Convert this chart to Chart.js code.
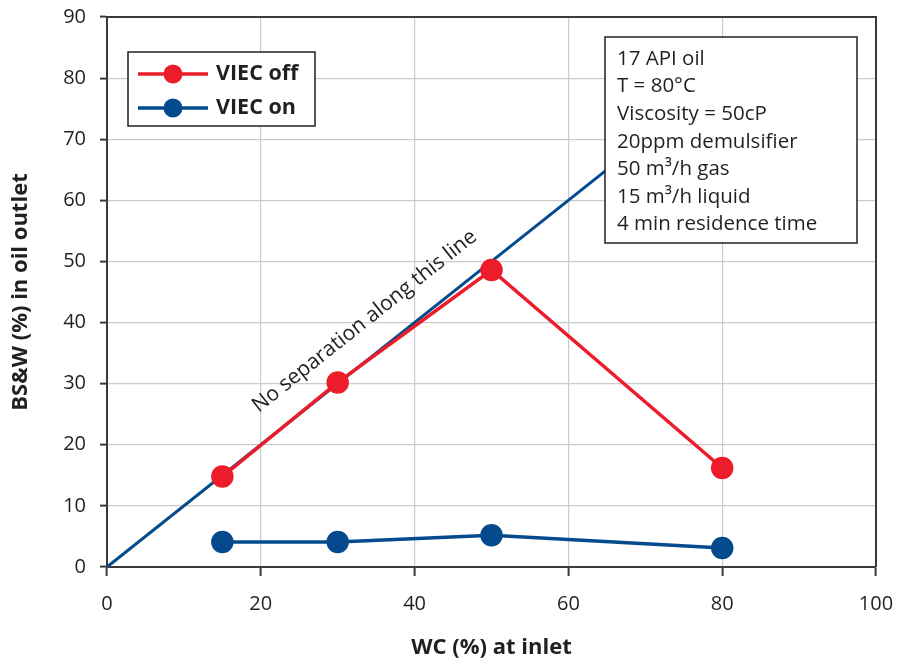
<!DOCTYPE html>
<html>
<head>
<meta charset="utf-8">
<script src="https://cdn.jsdelivr.net/npm/chart.js@4.4.1/dist/chart.umd.min.js"></script>
<style>
  html, body { margin: 0; padding: 0; background: #fff; }
  #wrap { width: 898px; height: 665px; position: relative; }
</style>
</head>
<body>
<div id="wrap"><canvas id="chart" width="898" height="665"></canvas></div>
<script>
// data
const wcInlet = [15, 30, 50, 80];
const viecOff = [14.8, 30.2, 48.6, 16.2];
const viecOn = [4.1, 4.1, 5.2, 3.1];
const noSepLine = [0, 75]; // y = x, no separation (runs in under the text box)
const xTicks = [0, 20, 40, 60, 80, 100];
const yTicks = [0, 10, 20, 30, 40, 50, 60, 70, 80, 90];
const infoLines = ['17 API oil', 'T = 80°C', 'Viscosity = 50cP', '20ppm demulsifier',
  '50 m³/h gas', '15 m³/h liquid', '4 min residence time'];

const RED = '#ec1c2a';
const BLUE = '#044a8d';
const INK = '#231f20';
const tickFont = { family: "'Open Sans', 'Noto Sans', sans-serif", size: 20 };
const textFont = "'Open Sans', 'Noto Sans', sans-serif";

const pts = (xs, ys) => xs.map((x, i) => ({ x: x, y: ys[i] }));

// text box, legend, rotated note and frame on top of the lines
const extras = {
  id: 'extras',
  afterDatasetsDraw(chart) {
    const { ctx, chartArea: a, scales } = chart;
    ctx.save();

    // frame
    ctx.strokeStyle = '#3a3a3a';
    ctx.lineWidth = 2;
    ctx.beginPath();
    ctx.moveTo(a.left, a.top); ctx.lineTo(a.right, a.top); ctx.lineTo(a.right, a.bottom);
    ctx.stroke();

    // note along diagonal
    const p0 = [scales.x.getPixelForValue(0), scales.y.getPixelForValue(0)];
    const p1 = [scales.x.getPixelForValue(90), scales.y.getPixelForValue(90)];
    const ang = Math.atan2(p1[1] - p0[1], p1[0] - p0[0]);
    ctx.save();
    ctx.translate(scales.x.getPixelForValue(33.5), scales.y.getPixelForValue(40.2));
    ctx.rotate(ang);
    ctx.fillStyle = INK;
    ctx.font = '21px ' + textFont;
    ctx.textAlign = 'center';
    ctx.textBaseline = 'middle';
    ctx.fillText('No separation along this line', 0, 0);
    ctx.restore();

    // info box
    ctx.fillStyle = '#fff';
    ctx.fillRect(605, 37, 252, 206);
    ctx.strokeStyle = INK;
    ctx.lineWidth = 1.5;
    ctx.strokeRect(605, 37, 252, 206);
    ctx.fillStyle = INK;
    ctx.font = '20.5px ' + textFont;
    ctx.textAlign = 'left';
    ctx.textBaseline = 'middle';
    infoLines.forEach((t, i) => ctx.fillText(t, 617, 59 + i * 27.6));

    // legend
    ctx.fillStyle = '#fff';
    ctx.fillRect(128, 52, 187, 74);
    ctx.strokeStyle = INK;
    ctx.lineWidth = 1.5;
    ctx.strokeRect(128, 52, 187, 74);
    const items = [chart.data.datasets[0], chart.data.datasets[1]];
    items.forEach((ds, i) => {
      const y = 74 + i * 34;
      ctx.strokeStyle = ds.borderColor;
      ctx.lineWidth = 3.5;
      ctx.beginPath(); ctx.moveTo(138, y); ctx.lineTo(208, y); ctx.stroke();
      ctx.fillStyle = ds.borderColor;
      ctx.beginPath(); ctx.arc(173, y, 9.5, 0, Math.PI * 2); ctx.fill();
      ctx.fillStyle = INK;
      ctx.font = 'bold 21.5px ' + textFont;
      ctx.textBaseline = 'middle';
      ctx.fillText(ds.label, 216, y);
    });
    ctx.restore();
  }
};

new Chart(document.getElementById('chart').getContext('2d'), {
  type: 'scatter',
  data: {
    datasets: [{
      label: 'VIEC off',
      data: pts(wcInlet, viecOff),
      showLine: true,
      borderColor: RED,
      backgroundColor: RED,
      borderWidth: 3.5,
      pointRadius: 9.5,
      pointHoverRadius: 9.5
    }, {
      label: 'VIEC on',
      data: pts(wcInlet, viecOn),
      showLine: true,
      borderColor: BLUE,
      backgroundColor: BLUE,
      borderWidth: 3.5,
      pointRadius: 9.5,
      pointHoverRadius: 9.5
    }, {
      label: 'No separation',
      data: pts(noSepLine, noSepLine),
      showLine: true,
      borderColor: BLUE,
      borderWidth: 3,
      pointRadius: 0
    }]
  },
  options: {
    responsive: false,
    animation: false,
    layout: { padding: { left: 0, top: 17, right: 22, bottom: 0 } },
    plugins: { legend: { display: false }, tooltip: { enabled: false } },
    scales: {
      x: {
        type: 'linear', min: 0, max: 100,
        afterBuildTicks: s => { s.ticks = xTicks.map(v => ({ value: v })); },
        afterFit: s => { s.height = 98; s.paddingRight = 0; s.paddingLeft = 0; },
        grid: { color: '#c9cbcc', lineWidth: 1.2, tickLength: 9, tickColor: '#3a3a3a', tickWidth: 2 },
        border: { color: '#3a3a3a', width: 2 },
        ticks: { color: INK, font: tickFont, padding: 16 },
        title: { display: true, text: 'WC (%) at inlet', color: INK,
          font: { family: textFont, size: 22, weight: 'bold' }, padding: { top: 8 } }
      },
      y: {
        type: 'linear', min: 0, max: 90,
        afterBuildTicks: s => { s.ticks = yTicks.map(v => ({ value: v })); },
        afterFit: s => { s.width = 107; s.paddingTop = 0; s.paddingBottom = 0; },
        grid: { color: '#c9cbcc', lineWidth: 1.2, tickLength: 7, tickColor: '#3a3a3a', tickWidth: 2 },
        border: { color: '#3a3a3a', width: 2 },
        ticks: { color: INK, font: tickFont, padding: 14 },
        title: { display: true, text: 'BS&W (%) in oil outlet', color: INK,
          font: { family: textFont, size: 22, weight: 'bold' }, padding: { top: 8, bottom: 4 } }
      }
    }
  },
  plugins: [extras]
});
</script>
</body>
</html>
